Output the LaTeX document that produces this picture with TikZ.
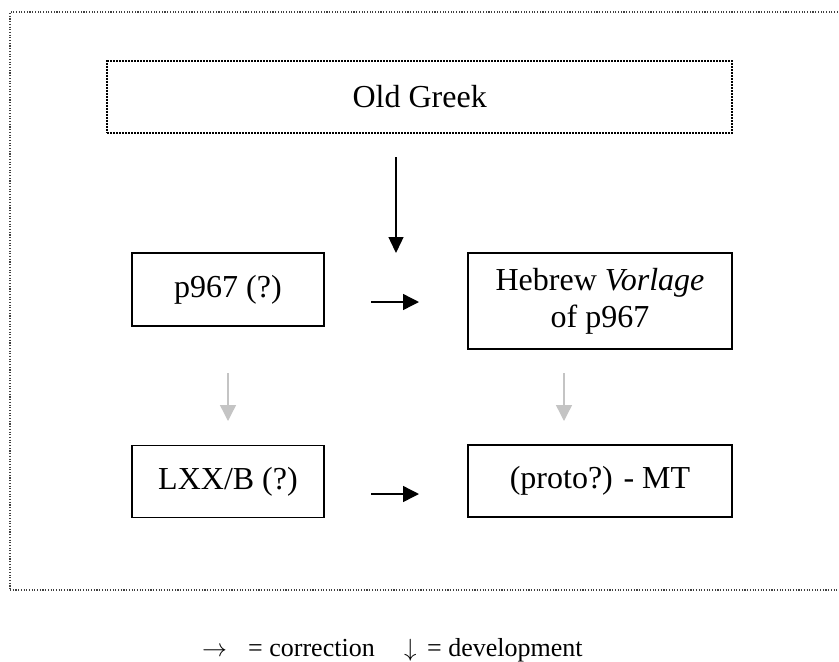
\documentclass[tikz,border=0pt]{standalone}
\usepackage{fontspec}
\setmainfont{Liberation Serif}
\usetikzlibrary{arrows.meta}
\begin{document}
\begin{tikzpicture}[x=1pt,y=-1pt,
  framedots/.style={draw=black!75, line width=1.1pt, dash pattern=on 1.1pt off 1.6pt},
  ogbox/.style={draw, line width=1.8pt, dash pattern=on 1.8pt off 1.2pt, inner sep=0pt,
    font=\fontsize{32}{37}\selectfont},
  textbox/.style={draw, line width=1.4pt, inner sep=0pt, align=center,
    font=\fontsize{32}{37}\selectfont},
  devarrow/.style={line width=1.4pt, -{Triangle[length=16pt,width=15pt]}},
  corrarrow/.style={line width=1.4pt, -{Triangle[length=16pt,width=16pt]}},
  lightarrow/.style={draw=black!23, line width=1.4pt, -{Triangle[length=16pt,width=16pt]}},
  legend/.style={inner sep=0pt, anchor=base west, font=\fontsize{26}{30}\selectfont}]
\useasboundingbox (0,0) rectangle (839,662);

% outer dotted frame
\node[framedots, minimum width=835pt, minimum height=578pt] (frame) at (427.5,301) {};

% source text
\node[ogbox, minimum width=625pt, minimum height=71.5pt] (og) at (419.7,97) {Old Greek};

% the four witnesses
\node[textbox, minimum width=192pt, minimum height=73pt] (p967) at (228,289.5) {p967 (?)};
\node[textbox, minimum width=264pt, minimum height=96pt] (vorlage) at (600,301)
  {Hebrew \textit{Vorlage}\\of p967};
\node[textbox, minimum width=192pt, minimum height=72pt] (lxxb) at (228,481.5) {LXX/B (?)};
\node[textbox, minimum width=264pt, minimum height=72pt] (protomt) at (600,481) {(proto?) - MT};

% arrow ends
\coordinate (ogS) at (396,157);   \coordinate (ogE) at (396,253);
\coordinate (c1S) at (371,302);   \coordinate (c1E) at (419,302);
\coordinate (c2S) at (371,494);   \coordinate (c2E) at (419,494);
\coordinate (d1S) at (228,373);   \coordinate (d1E) at (228,421);
\coordinate (d2S) at (564,373);   \coordinate (d2E) at (564,421);

\draw[devarrow] (ogS) -- (ogE);
\draw[corrarrow] (c1S) -- (c1E);
\draw[corrarrow] (c2S) -- (c2E);
\draw[lightarrow] (d1S) -- (d1E);
\draw[lightarrow] (d2S) -- (d2E);

% key
\node[legend] (keyR) at (202,656) {$\rightarrow$};
\node[legend] (keyRt) at (248,656) {= correction};
\node[legend] (keyD) at (404,656) {$\downarrow$};
\node[legend] (keyDt) at (427,656) {= development};
\end{tikzpicture}
\end{document}
